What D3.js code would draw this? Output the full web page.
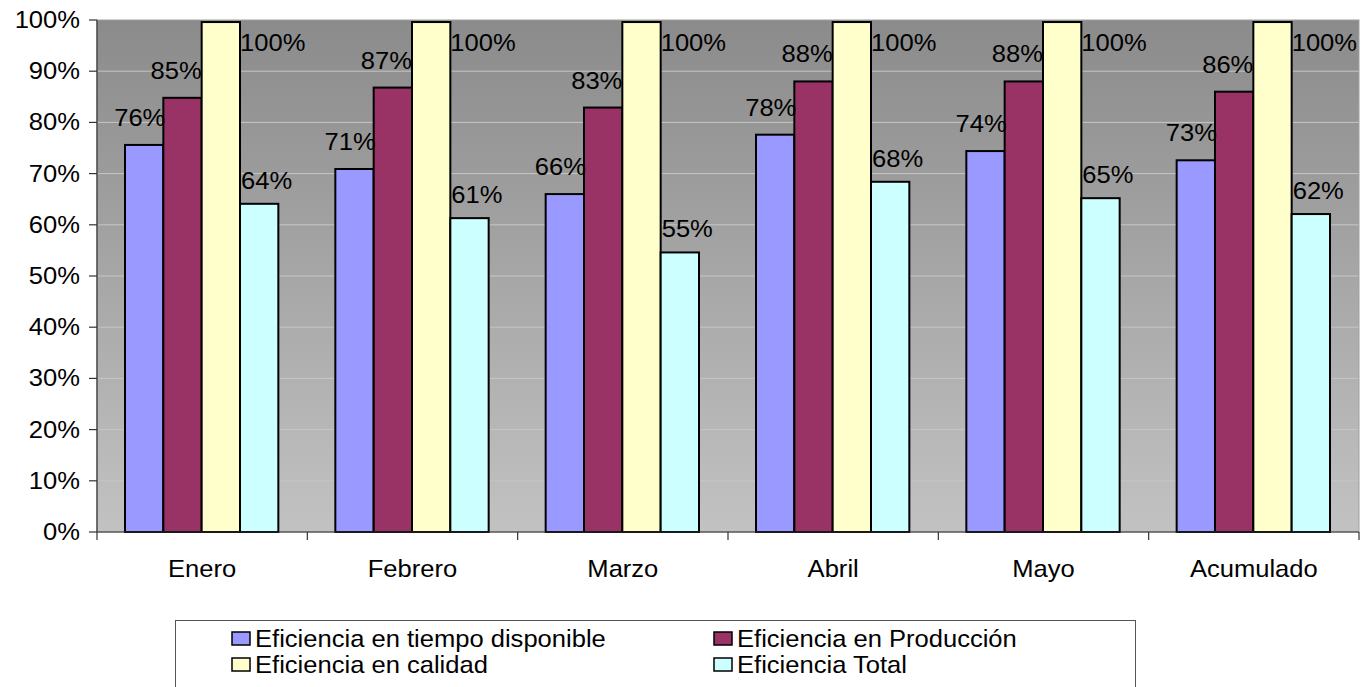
<!DOCTYPE html>
<html>
<head>
<meta charset="utf-8">
<script src="https://cdn.jsdelivr.net/npm/d3@7"></script>
<style>
  html, body { margin: 0; padding: 0; background: #fff; }
  svg { display: block; font-family: "Liberation Sans", Arial, sans-serif; }
</style>
</head>
<body>
<div id="chart"></div>
<script>
// datos
const categories = ["Enero", "Febrero", "Marzo", "Abril", "Mayo", "Acumulado"];
const seriesNames = [
  "Eficiencia en tiempo disponible",
  "Eficiencia en Producción",
  "Eficiencia en calidad",
  "Eficiencia Total"
];
const tiempoDisponible = [0.756, 0.709, 0.660, 0.776, 0.744, 0.726];
const produccion       = [0.848, 0.868, 0.829, 0.880, 0.880, 0.860];
const calidad          = [0.996, 0.996, 0.996, 0.996, 0.996, 0.996];
const total            = [0.641, 0.613, 0.546, 0.684, 0.652, 0.621];
const yTickValues = [0, 0.1, 0.2, 0.3, 0.4, 0.5, 0.6, 0.7, 0.8, 0.9, 1];

const seriesValues = [tiempoDisponible, produccion, calidad, total];
const colors = ["#9999ff", "#993366", "#ffffcc", "#ccffff"];

const W = 1361, H = 687;
const FS = "24px";
const SX = 1.065; // el texto del original sale algo ensanchado
const plot = { left: 97, right: 1359, top: 20, bottom: 532 };

const svg = d3.select("#chart").append("svg")
  .attr("width", W).attr("height", H);

// fondo degradado del area de trazado
const grad = svg.append("defs").append("linearGradient")
  .attr("id", "bg").attr("x1", 0).attr("y1", 0).attr("x2", 0).attr("y2", 1);
grad.append("stop").attr("offset", "0%").attr("stop-color", "#8b8b8b");
grad.append("stop").attr("offset", "100%").attr("stop-color", "#c2c2c2");

svg.append("rect")
  .attr("x", plot.left).attr("y", plot.top)
  .attr("width", plot.right - plot.left).attr("height", plot.bottom - plot.top)
  .attr("fill", "url(#bg)");

// escalas
const y = d3.scaleLinear().domain([0, 1]).range([plot.bottom, plot.top]);
const x0 = d3.scaleBand().domain(categories).range([plot.left, plot.right]).padding(0);
const bw = x0.bandwidth();
const x1 = d3.scaleBand().domain(d3.range(seriesNames.length)).range([28, bw - 29]).padding(0);

// lineas de division
svg.append("g").selectAll("line")
  .data(yTickValues.filter(d => d > 0 && d < 1))
  .join("line")
  .attr("x1", plot.left).attr("x2", plot.right)
  .attr("y1", d => y(d)).attr("y2", d => y(d))
  .attr("stroke", "#c6c6c6").attr("stroke-width", 1);

// borde del area
svg.append("rect")
  .attr("x", plot.left).attr("y", plot.top)
  .attr("width", plot.right - plot.left).attr("height", plot.bottom - plot.top)
  .attr("fill", "none").attr("stroke", "#a0a0a0").attr("stroke-width", 1);

// barras
const rows = categories.map((c, i) => ({ cat: c, vals: seriesValues.map(s => s[i]) }));
const groups = svg.append("g").selectAll("g")
  .data(rows)
  .join("g")
  .attr("transform", d => `translate(${x0(d.cat)},0)`);

groups.selectAll("rect")
  .data(d => d.vals.map((v, s) => ({ v, s })))
  .join("rect")
  .attr("x", d => x1(d.s))
  .attr("y", d => y(d.v))
  .attr("width", x1.bandwidth())
  .attr("height", d => y(0) - y(d.v))
  .attr("fill", d => colors[d.s])
  .attr("stroke", "#000").attr("stroke-width", 2);

// etiquetas de datos (Excel las deja algo desplazadas segun la serie)
const fmt = d3.format(".0%");
function labelPos(d) {
  const xl = x1(d.s), xr = xl + x1.bandwidth();
  if (d.s === 0) return { x: xr + 2, y: y(d.v) - 19, a: "end" };
  if (d.s === 1) return { x: xr, y: y(d.v) - 19, a: "end" };
  if (d.s === 2) return { x: xr, y: y(d.v) + 29, a: "start" };
  return { x: xl + 1, y: y(d.v) - 15, a: "start" };
}
groups.selectAll("text")
  .data(d => d.vals.map((v, s) => ({ v, s })))
  .join("text")
  .attr("transform", d => { const p = labelPos(d); return `translate(${p.x},${p.y}) scale(${SX},1)`; })
  .attr("text-anchor", d => labelPos(d).a)
  .style("font-size", FS).attr("fill", "#000")
  .text(d => fmt(d.v));

// eje Y
const yAxisG = svg.append("g");
yAxisG.append("line")
  .attr("x1", plot.left).attr("x2", plot.left)
  .attr("y1", plot.top).attr("y2", plot.bottom)
  .attr("stroke", "#333").attr("stroke-width", 1.2);
yAxisG.selectAll("line.tick")
  .data(yTickValues)
  .join("line").attr("class", "tick")
  .attr("x1", plot.left - 8).attr("x2", plot.left)
  .attr("y1", d => y(d)).attr("y2", d => y(d))
  .attr("stroke", "#333").attr("stroke-width", 1.2);
yAxisG.selectAll("text")
  .data(yTickValues)
  .join("text")
  .attr("transform", d => `translate(80,${y(d) + 8}) scale(${SX},1)`)
  .attr("text-anchor", "end")
  .style("font-size", FS).attr("fill", "#000")
  .text(d => fmt(d));

// eje X
const xAxisG = svg.append("g");
xAxisG.append("line")
  .attr("x1", plot.left).attr("x2", plot.right)
  .attr("y1", plot.bottom).attr("y2", plot.bottom)
  .attr("stroke", "#333").attr("stroke-width", 1.2);
xAxisG.selectAll("line.tick")
  .data(categories.map(c => x0(c)).concat([plot.right]))
  .join("line").attr("class", "tick")
  .attr("x1", d => d).attr("x2", d => d)
  .attr("y1", plot.bottom).attr("y2", plot.bottom + 8)
  .attr("stroke", "#333").attr("stroke-width", 1.2);
xAxisG.selectAll("text")
  .data(categories)
  .join("text")
  .attr("transform", d => `translate(${x0(d) + bw / 2},577) scale(${SX},1)`)
  .attr("text-anchor", "middle")
  .style("font-size", FS).attr("fill", "#000")
  .text(d => d);

// leyenda
const legend = svg.append("g");
legend.append("rect")
  .attr("x", 175.5).attr("y", 620.5).attr("width", 960).attr("height", 80)
  .attr("fill", "#fff").attr("stroke", "#555").attr("stroke-width", 1);

const legCols = [232, 714];
const legRows = [638, 664];
const items = legend.selectAll("g.item")
  .data(seriesNames.map((n, i) => ({ n, i })))
  .join("g").attr("class", "item")
  .attr("transform", d => `translate(${legCols[d.i % 2]},${legRows[Math.floor(d.i / 2)]})`);
items.append("rect")
  .attr("x", 0).attr("y", -6).attr("width", 18).attr("height", 13)
  .attr("fill", d => colors[d.i]).attr("stroke", "#000").attr("stroke-width", 1.5);
items.append("text")
  .attr("transform", `translate(23,9) scale(${SX},1)`)
  .style("font-size", FS).attr("fill", "#000")
  .text(d => d.n);
</script>
</body>
</html>
